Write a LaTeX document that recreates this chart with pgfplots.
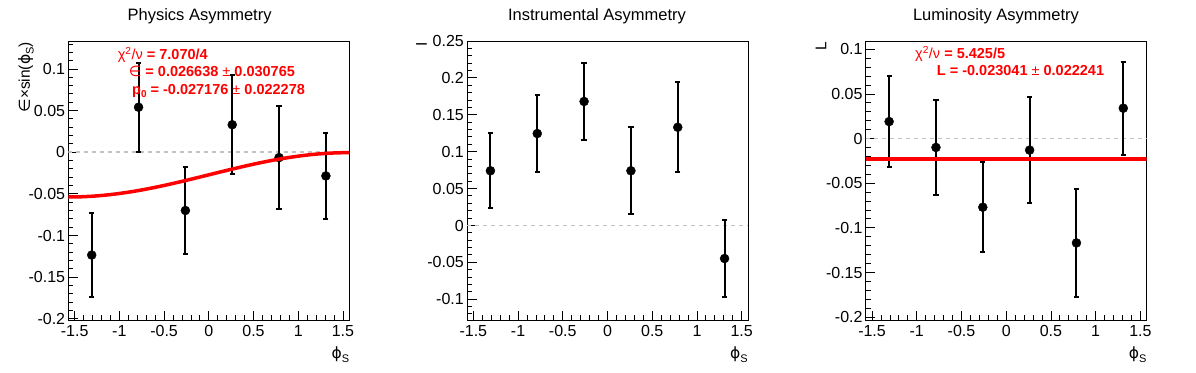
\documentclass[border=0pt]{standalone}
\usepackage{fontspec}
\setmainfont{Liberation Sans}
\newfontfamily\dejavu{DejaVu Sans}
\usepackage{pgfplots}
\usepackage{pgfplotstable}
\pgfplotsset{compat=1.18}

\definecolor{zgray}{RGB}{195,195,195}
\definecolor{rred}{RGB}{255,0,0}

\pgfplotstableread{
x y e
-1.3090 -0.1235 0.0505
-0.7854  0.0540 0.0535
-0.2618 -0.0700 0.0520
 0.2618  0.0330 0.0595
 0.7854 -0.0065 0.0620
 1.3090 -0.0285 0.0520
}\physdata

\pgfplotstableread{
x y e
-1.3090  0.0740 0.0510
-0.7854  0.1245 0.0520
-0.2618  0.1680 0.0520
 0.2618  0.0740 0.0590
 0.7854  0.1330 0.0610
 1.3090 -0.0450 0.0520
}\instdata

\pgfplotstableread{
x y e
-1.3090  0.0190 0.0510
-0.7854 -0.0100 0.0530
-0.2618 -0.0770 0.0505
 0.2618 -0.0130 0.0590
 0.7854 -0.1170 0.0605
 1.3090  0.0340 0.0520
}\lumidata

\pgfplotstableread{
x y
-1.5708 -0.053814
-1.4399 -0.053586
-1.3090 -0.052906
-1.1781 -0.051786
-1.0472 -0.050245
-0.9163 -0.048309
-0.7854 -0.046012
-0.6545 -0.043392
-0.5236 -0.040495
-0.3927 -0.037370
-0.2618 -0.034070
-0.1309 -0.030653
 0.0000 -0.027176
 0.1309 -0.023699
 0.2618 -0.020282
 0.3927 -0.016982
 0.5236 -0.013857
 0.6545 -0.010960
 0.7854 -0.008340
 0.9163 -0.006043
 1.0472 -0.004107
 1.1781 -0.002566
 1.3090 -0.001446
 1.4399 -0.000766
 1.5708 -0.000538
}\physfit

\newcommand{\phis}{{\dejavu ϕ}\raisebox{-0.45ex}{\fontsize{11}{12}\selectfont S}}

\pgfplotsset{
  rootaxis/.style={
    scale only axis, width=281pt, height=279pt,
    anchor=south west,
    xmin=-1.5708, xmax=1.5708,
    xtick={-1.5,-1,-0.5,0,0.5,1,1.5},
    xticklabels={-1.5,-1,-0.5,0,0.5,1,1.5},
    minor xtick={-1.5,-1.4,...,1.55},
    tick pos=left,
    tick align=inside,
    major tick length=9.5pt, minor tick length=5pt,
    every tick/.style={black, line width=0.8pt},
    axis line style={line width=0.8pt},
    ticklabel style={font=\fontsize{16}{18}\selectfont, inner sep=0pt},
    xticklabel style={anchor=base, yshift=-16.9pt},
    yticklabel style={anchor=base east, xshift=-3pt, yshift=-5.7pt},
    clip mode=individual,
  },
  ptsstyle/.style={black, only marks, mark=*, mark size=4.5pt,
    error bars/.cd, y dir=both, y explicit,
    error bar style={line width=2pt, black},
    error mark=-,
    error mark options={rotate=90, line width=2pt, mark size=2.6pt, black}},
  zeroline/.style={zgray, line width=1.5pt, dash pattern=on 4pt off 4pt},
}

\tikzset{
  ttl/.style={anchor=base, inner sep=0pt, font=\fontsize{16.5}{19}\selectfont},
  fit/.style={anchor=base west, inner sep=0pt, text=rred, font=\fontsize{14.5}{17}\selectfont},
  xlab/.style={anchor=north east, inner sep=0pt, font=\fontsize{15.5}{18}\selectfont},
  ylab/.style={anchor=east, rotate=90, inner sep=0pt, font=\fontsize{15.5}{18}\selectfont},
}

\begin{document}
\begin{tikzpicture}
\path[use as bounding box] (0,0) rectangle (1196pt,-372pt);

% ---------- Physics Asymmetry ----------
\begin{axis}[rootaxis, at={(68.3pt,-320pt)},
  ymin=-0.2015, ymax=0.1335,
  ytick={-0.2,-0.15,-0.1,-0.05,0,0.05,0.1},
  yticklabels={-0.2,-0.15,-0.1,-0.05,0,0.05,0.1},
  minor ytick={-0.2,-0.19,...,0.135}]
\addplot[zeroline] coordinates {(-1.5708,0) (1.5708,0)};
\addplot[ptsstyle] table[x=x, y=y, y error=e] {\physdata};
\addplot[rred, line width=3.5pt, smooth] table[x=x, y=y] {\physfit};
\node[ttl, xshift=-9.2pt, yshift=20.3pt] at (rel axis cs:0.5,1) {Physics Asymmetry};
\node[fit, xshift=49.3pt, yshift=-18.3pt] at (rel axis cs:0,1) {χ\textsuperscript{2}/ν\textbf{ = 7.070/4}};
\node[fit, xshift=60.3pt, yshift=-35pt] at (rel axis cs:0,1) {{\dejavu ∈}\textbf{ = 0.026638 }±\textbf{ 0.030765}};
\node[fit, xshift=63.7pt, yshift=-53pt] at (rel axis cs:0,1) {\textbf{p\raisebox{-0.5ex}{\fontsize{10}{11}\selectfont 0} = -0.027176 }±\textbf{ 0.022278}};
\node[xlab, yshift=-27pt] at (rel axis cs:1,0) {\phis};
\node[xshift=-42.3pt, yshift=-1pt, ylab] at (rel axis cs:0,1) {{\dejavu ∈}×sin(\phis)};
\end{axis}

% ---------- Instrumental Asymmetry ----------
\begin{axis}[rootaxis, at={(467pt,-320pt)},
  ymin=-0.1284, ymax=0.25,
  ytick={-0.1,-0.05,0,0.05,0.1,0.15,0.2,0.25},
  yticklabels={-0.1,-0.05,0,0.05,0.1,0.15,0.2,0.25},
  minor ytick={-0.12,-0.11,...,0.255}]
\addplot[zeroline] coordinates {(-1.5708,0) (1.5708,0)};
\addplot[ptsstyle] table[x=x, y=y, y error=e] {\instdata};
\node[ttl, xshift=-10.5pt, yshift=20.3pt] at (rel axis cs:0.5,1) {Instrumental Asymmetry};
\node[xlab, yshift=-27pt] at (rel axis cs:1,0) {\phis};
\node[xshift=-45.5pt, yshift=-1pt, ylab] at (rel axis cs:0,1) {I};
\end{axis}

% ---------- Luminosity Asymmetry ----------
\begin{axis}[rootaxis, at={(865.7pt,-320pt)},
  ymin=-0.2034, ymax=0.1093,
  ytick={-0.2,-0.15,-0.1,-0.05,0,0.05,0.1},
  yticklabels={-0.2,-0.15,-0.1,-0.05,0,0.05,0.1},
  minor ytick={-0.2,-0.19,...,0.105}]
\addplot[zeroline] coordinates {(-1.5708,0) (1.5708,0)};
\addplot[ptsstyle] table[x=x, y=y, y error=e] {\lumidata};
\addplot[rred, line width=3.5pt] coordinates {(-1.5708,-0.023041) (1.5708,-0.023041)};
\node[ttl, xshift=-10.2pt, yshift=20.3pt] at (rel axis cs:0.5,1) {Luminosity Asymmetry};
\node[fit, xshift=49.3pt, yshift=-17.6pt] at (rel axis cs:0,1) {χ\textsuperscript{2}/ν\textbf{ = 5.425/5}};
\node[fit, xshift=71pt, yshift=-34.3pt] at (rel axis cs:0,1) {\textbf{L = -0.023041 }±\textbf{ 0.022241}};
\node[xlab, yshift=-27pt] at (rel axis cs:1,0) {\phis};
\node[xshift=-44.7pt, yshift=-1pt, ylab] at (rel axis cs:0,1) {L};
\end{axis}
\end{tikzpicture}
\end{document}
